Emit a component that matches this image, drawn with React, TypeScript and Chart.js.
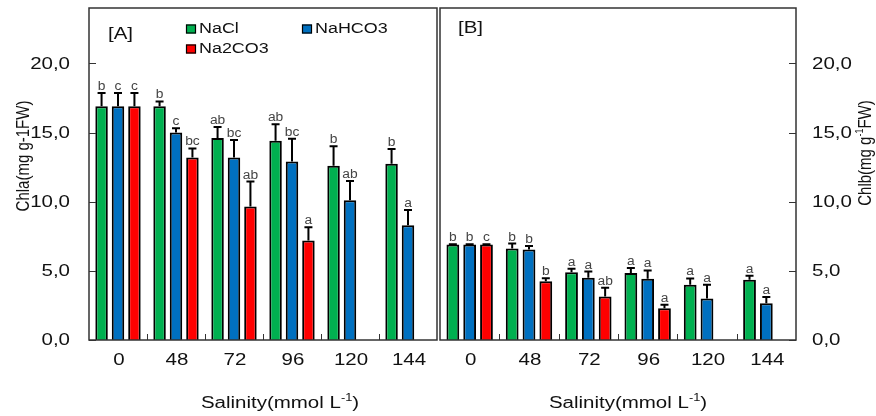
import React, { useEffect, useRef } from 'react';
import { Chart, registerables } from 'chart.js';

Chart.register(...registerables);

const FONT = "'Liberation Sans', Arial, sans-serif";
const SX = 1.28; // horizontal stretch of the text in the reference

const categories = ['0', '48', '72', '96', '120', '144'];
const seriesNames = ['NaCl', 'NaHCO3', 'Na2CO3'];
const seriesColors = ['#00B050', '#0070C0', '#FF0000'];
const yTickValues = [0, 5, 10, 15, 20];
const yMax = 24;

// Panel A: Chla
const chlaNaCl = [16.9, 16.9, 14.6, 14.4, 12.6, 12.75];
const chlaNaClErr = [0.95, 0.35, 0.8, 1.2, 1.4, 1.05];
const chlaNaHCO3 = [16.9, 15.0, 13.2, 12.9, 10.1, 8.3];
const chlaNaHCO3Err = [0.95, 0.3, 1.25, 1.65, 1.4, 1.1];
const chlaNa2CO3 = [16.9, 13.2, 9.65, 7.2, null, null];
const chlaNa2CO3Err = [0.95, 0.65, 1.8, 0.95, null, null];
const chlaNaClLetters = ['b', 'b', 'ab', 'ab', 'b', 'b'];
const chlaNaHCO3Letters = ['c', 'c', 'bc', 'bc', 'ab', 'a'];
const chlaNa2CO3Letters = ['c', 'bc', 'ab', 'a', null, null];

// Panel B: Chlb
const chlbNaCl = [6.9, 6.62, 4.9, 4.85, 4.0, 4.35];
const chlbNaClErr = [0.03, 0.35, 0.25, 0.35, 0.45, 0.3];
const chlbNaHCO3 = [6.9, 6.55, 4.5, 4.43, 3.0, 2.65];
const chlbNaHCO3Err = [0.03, 0.25, 0.45, 0.6, 1.0, 0.45];
const chlbNa2CO3 = [6.9, 4.25, 3.15, 2.3, null, null];
const chlbNa2CO3Err = [0.03, 0.22, 0.62, 0.25, null, null];
const chlbNaClLetters = ['b', 'b', 'a', 'a', 'a', 'a'];
const chlbNaHCO3Letters = ['b', 'b', 'a', 'a', 'a', 'a'];
const chlbNa2CO3Letters = ['c', 'b', 'ab', 'a', null, null];

type Part = { t: string; sup?: boolean };

// draw text stretched horizontally (in the text's own frame)
function drawText(
  ctx: CanvasRenderingContext2D,
  text: string,
  x: number,
  y: number,
  size: number,
  align: CanvasTextAlign,
  baseline: CanvasTextBaseline = 'middle',
  sx = SX
) {
  ctx.save();
  ctx.translate(x, y);
  ctx.scale(sx, 1);
  ctx.font = `${size}px ${FONT}`;
  ctx.textAlign = align;
  ctx.textBaseline = baseline;
  ctx.fillText(text, 0, 0);
  ctx.restore();
}

// rich text centred at (0,0) in current frame; stretch applied by caller
function drawRich(ctx: CanvasRenderingContext2D, parts: Part[], size: number) {
  const supSize = Math.round(size * 0.62);
  let w = 0;
  for (const p of parts) {
    ctx.font = `${p.sup ? supSize : size}px ${FONT}`;
    w += ctx.measureText(p.t).width;
  }
  let x = -w / 2;
  ctx.textAlign = 'left';
  ctx.textBaseline = 'middle';
  for (const p of parts) {
    ctx.font = `${p.sup ? supSize : size}px ${FONT}`;
    ctx.fillText(p.t, x, p.sup ? -size * 0.34 : 0);
    x += ctx.measureText(p.t).width;
  }
}

const fmt = (v: number) => v.toFixed(1).replace('.', ',');

type PanelSpec = {
  values: (number | null)[][];
  errors: (number | null)[][];
  letters: (string | null)[][];
  side: 'left' | 'right';
  label: string;
  labelPos: [number, number];
  yTitle: Part[];
  yTitlePos: [number, number];
  xTitlePos: [number, number];
  legend: boolean;
  padding: { left: number; right: number; top: number; bottom: number };
  yWidth: number;
};

function makeChart(canvas: HTMLCanvasElement, spec: PanelSpec) {
  const decor = {
    id: 'decor',
    afterDraw(chart: any) {
      const ctx: CanvasRenderingContext2D = chart.ctx;
      const ca = chart.chartArea;
      const xs = chart.scales.x;
      const ys = chart.scales.y;
      ctx.save();

      // error bars and letters
      chart.data.datasets.forEach((ds: any, di: number) => {
        const meta = chart.getDatasetMeta(di);
        meta.data.forEach((el: any, i: number) => {
          const v = spec.values[di][i];
          if (v == null) return;
          const e = spec.errors[di][i] || 0;
          const yTop = ys.getPixelForValue(v + e);
          ctx.strokeStyle = '#000';
          ctx.lineWidth = 2;
          ctx.beginPath();
          ctx.moveTo(el.x, el.y);
          ctx.lineTo(el.x, yTop);
          ctx.moveTo(el.x - 4, yTop);
          ctx.lineTo(el.x + 4, yTop);
          ctx.stroke();
          const letter = spec.letters[di][i];
          if (letter) {
            ctx.fillStyle = '#444';
            drawText(ctx, letter, el.x, yTop - 3, 12, 'center', 'alphabetic', 1.15);
          }
        });
      });

      // frame
      ctx.strokeStyle = '#333';
      ctx.lineWidth = 1.5;
      ctx.strokeRect(ca.left, ca.top, ca.right - ca.left, ca.bottom - ca.top);

      // inner y ticks
      ctx.lineWidth = 1;
      ctx.beginPath();
      for (const v of yTickValues) {
        const y = Math.round(ys.getPixelForValue(v)) + 0.5;
        if (spec.side === 'left') {
          ctx.moveTo(ca.left, y);
          ctx.lineTo(ca.left + 7, y);
        } else {
          ctx.moveTo(ca.right, y);
          ctx.lineTo(ca.right - 7, y);
        }
      }
      // x boundary ticks
      for (let i = 1; i < categories.length; i++) {
        const x = Math.round((xs.getPixelForValue(i - 1) + xs.getPixelForValue(i)) / 2) + 0.5;
        ctx.moveTo(x, ca.bottom);
        ctx.lineTo(x, ca.bottom - 6);
      }
      ctx.stroke();

      ctx.fillStyle = '#111';
      // y tick labels
      for (const v of yTickValues) {
        const y = ys.getPixelForValue(v);
        if (spec.side === 'left') drawText(ctx, fmt(v), ca.left - 19, y + 1, 16, 'right');
        else drawText(ctx, fmt(v), ca.right + 16, y + 1, 16, 'left');
      }
      // x tick labels
      categories.forEach((c, i) => {
        drawText(ctx, c, xs.getPixelForValue(i) + 1, ca.bottom + 21, 16, 'center');
      });

      // panel label
      drawText(ctx, spec.label, spec.labelPos[0], spec.labelPos[1], 16, 'left');

      // legend
      if (spec.legend) {
        const items: [number, number][] = [
          [186, 29],
          [302, 29],
          [186, 49],
        ];
        seriesNames.forEach((n, i) => {
          const [bx, by] = items[i];
          ctx.fillStyle = seriesColors[i];
          ctx.fillRect(bx, by - 4.5, 10, 9);
          ctx.strokeStyle = '#000';
          ctx.lineWidth = 1.2;
          ctx.strokeRect(bx + 0.5, by - 4, 9, 8);
          ctx.fillStyle = '#111';
          drawText(ctx, n, bx + 13, by, 14, 'left');
        });
      }

      // y title (rotated, stretched across its thickness)
      ctx.fillStyle = '#111';
      ctx.save();
      ctx.translate(spec.yTitlePos[0], spec.yTitlePos[1]);
      ctx.rotate(-Math.PI / 2);
      ctx.scale(1, SX);
      drawRich(ctx, spec.yTitle, 15);
      ctx.restore();

      // x title
      ctx.save();
      ctx.translate(spec.xTitlePos[0], spec.xTitlePos[1]);
      ctx.scale(SX, 1);
      drawRich(ctx, [{ t: 'Salinity(mmol L' }, { t: '-1', sup: true }, { t: ')' }], 16);
      ctx.restore();

      ctx.restore();
    },
  };

  return new Chart(canvas, {
    type: 'bar',
    data: {
      labels: categories,
      datasets: seriesNames.map((n, i) => ({
        label: n,
        data: spec.values[i] as any,
        backgroundColor: seriesColors[i],
        borderColor: '#000',
        borderWidth: 2,
        categoryPercentage: 0.85,
        barPercentage: 0.76,
      })),
    },
    options: {
      animation: false,
      responsive: false,
      maintainAspectRatio: false,
      layout: { padding: spec.padding },
      plugins: { legend: { display: false }, tooltip: { enabled: false } },
      scales: {
        x: {
          grid: { display: false, drawTicks: false },
          border: { display: false },
          ticks: { display: false },
          afterFit: (s: any) => {
            s.height = 76;
            s.paddingLeft = 0;
            s.paddingRight = 0;
          },
        },
        y: {
          position: spec.side,
          min: 0,
          max: yMax,
          afterBuildTicks: (s: any) => {
            s.ticks = yTickValues.map((v) => ({ value: v }));
          },
          grid: { display: false, drawTicks: false },
          border: { display: false },
          ticks: { display: false },
          afterFit: (s: any) => {
            s.width = spec.yWidth;
            s.paddingTop = 0;
            s.paddingBottom = 0;
          },
        },
      },
    } as any,
    plugins: [decor],
  });
}

export default function App() {
  const refA = useRef<HTMLCanvasElement>(null);
  const refB = useRef<HTMLCanvasElement>(null);

  useEffect(() => {
    const a = makeChart(refA.current!, {
      values: [chlaNaCl, chlaNaHCO3, chlaNa2CO3],
      errors: [chlaNaClErr, chlaNaHCO3Err, chlaNa2CO3Err],
      letters: [chlaNaClLetters, chlaNaHCO3Letters, chlaNa2CO3Letters],
      side: 'left',
      label: '[A]',
      labelPos: [108, 35],
      yTitle: [{ t: 'Chla(mg g-1FW)' }],
      yTitlePos: [24, 156],
      xTitlePos: [280, 404],
      legend: true,
      padding: { left: 0, right: 1, top: 8, bottom: 0 },
      yWidth: 89,
    });
    const b = makeChart(refB.current!, {
      values: [chlbNaCl, chlbNaHCO3, chlbNa2CO3],
      errors: [chlbNaClErr, chlbNaHCO3Err, chlbNa2CO3Err],
      letters: [chlbNaClLetters, chlbNaHCO3Letters, chlbNa2CO3Letters],
      side: 'right',
      label: '[B]',
      labelPos: [20, 29],
      yTitle: [{ t: 'Chlb(mg g' }, { t: '-1', sup: true }, { t: 'FW)' }],
      yTitlePos: [428, 153],
      xTitlePos: [190, 404],
      legend: false,
      padding: { left: 2, right: 0, top: 8, bottom: 0 },
      yWidth: 80,
    });
    return () => {
      a.destroy();
      b.destroy();
    };
  }, []);

  return (
    <div style={{ position: 'absolute', left: 0, top: 0, width: 876, height: 416, background: '#fff' }}>
      <canvas ref={refA} width={438} height={416} style={{ position: 'absolute', left: 0, top: 0, width: 438, height: 416 }} />
      <canvas ref={refB} width={438} height={416} style={{ position: 'absolute', left: 438, top: 0, width: 438, height: 416 }} />
    </div>
  );
}
